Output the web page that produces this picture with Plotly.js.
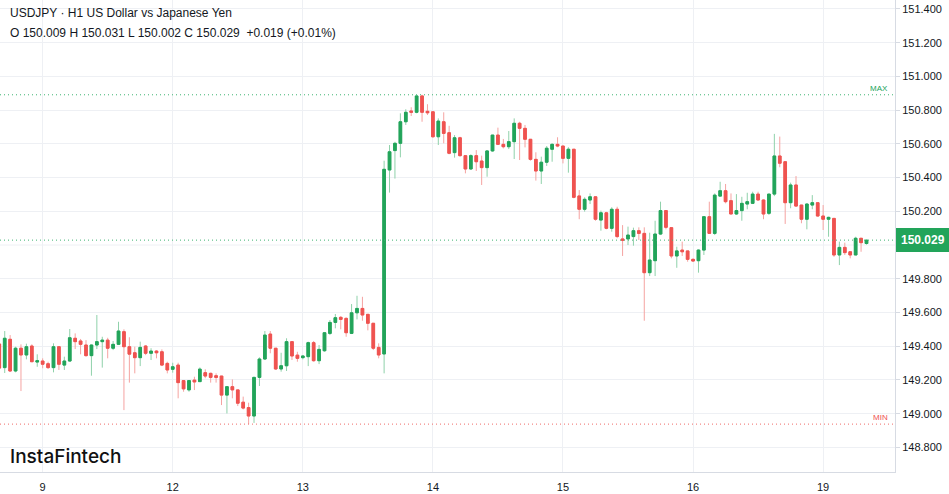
<!DOCTYPE html>
<html>
<head>
<meta charset="utf-8">
<script src="https://cdn.plot.ly/plotly-3.0.1.min.js"></script>
<style>
  html, body { margin: 0; padding: 0; background: #ffffff; }
  #chart { width: 949px; height: 494px; }
</style>
</head>
<body>
<div id="chart"></div>
<script>
// ---- Data (USDJPY, H1 candles) ----
const dayLabels = ['9', '12', '13', '14', '15', '16', '19'];
const barsBeforeFirstDay = 8;
const barsPerDay = 24;
const priceTicks = [148.8, 149.0, 149.2, 149.4, 149.6, 149.8, 150.0, 150.2, 150.4, 150.6, 150.8, 151.0, 151.2, 151.4];

const open = [
149.413,149.273,149.441,149.253,149.388,149.348,149.401,149.306,149.312,149.296,
149.273,149.397,149.288,149.312,149.447,149.431,149.407,149.344,149.407,149.427,
149.436,149.388,149.411,149.486,149.397,149.361,149.332,149.401,149.358,149.371,
149.367,149.298,149.263,149.288,149.196,149.141,149.199,149.190,149.243,149.239,
149.225,149.223,149.110,149.160,149.141,149.068,149.036,148.986,149.215,149.324,
149.472,149.388,149.265,149.284,149.427,149.347,149.332,149.338,149.421,149.314,
149.373,149.476,149.541,149.571,149.565,149.476,149.598,149.624,149.589,149.536,
149.393,149.354,150.445,150.560,150.603,150.731,150.795,150.787,150.884,150.793,
150.790,150.642,150.731,150.666,150.548,150.636,150.530,150.451,150.530,150.498,
150.459,150.558,150.652,150.597,150.583,150.613,150.722,150.692,150.627,150.508,
150.439,150.491,150.568,150.597,150.587,150.514,150.568,150.291,150.212,150.267,
150.286,150.148,150.191,150.099,150.212,150.036,150.036,150.050,150.085,150.069,
149.836,149.907,150.065,150.204,150.103,149.935,149.970,149.965,149.915,149.907,
149.970,150.168,150.069,150.290,150.322,150.263,150.184,150.204,150.243,150.247,
150.302,150.267,150.188,150.302,150.528,150.494,150.251,150.356,150.237,150.153,
150.237,150.251,150.172,150.153,150.158,149.941,149.986,149.960,149.941,150.040,
150.009];
const high = [
149.425,149.490,149.466,149.397,149.411,149.415,149.411,149.352,149.328,149.308,
149.417,149.401,149.338,149.502,149.476,149.443,149.436,149.409,149.585,149.456,
149.450,149.431,149.545,149.500,149.453,149.397,149.427,149.407,149.388,149.377,
149.381,149.308,149.302,149.302,149.199,149.199,149.219,149.274,149.263,149.243,
149.239,149.223,149.160,149.203,149.141,149.101,149.065,149.219,149.334,149.490,
149.490,149.388,149.361,149.447,149.427,149.367,149.347,149.427,149.431,149.407,
149.480,149.555,149.591,149.579,149.571,149.650,149.699,149.693,149.589,149.536,
149.417,150.500,150.593,150.612,150.781,150.805,150.817,150.889,150.891,150.835,
150.793,150.751,150.787,150.707,150.652,150.642,150.534,150.538,150.563,150.530,
150.563,150.652,150.696,150.629,150.676,150.751,150.731,150.712,150.627,150.550,
150.524,150.587,150.603,150.639,150.587,150.580,150.568,150.326,150.283,150.306,
150.286,150.204,150.197,150.224,150.227,150.118,150.109,150.103,150.105,150.105,
150.073,150.144,150.257,150.207,150.103,149.990,150.020,149.965,149.921,149.974,
150.168,150.257,150.306,150.375,150.362,150.306,150.302,150.286,150.310,150.316,
150.316,150.271,150.302,150.659,150.643,150.494,150.370,150.409,150.237,150.247,
150.296,150.251,150.237,150.168,150.158,150.020,150.014,149.960,150.049,150.040,
150.031];
const low = [
149.262,149.241,149.247,149.245,149.134,149.322,149.306,149.278,149.269,149.265,
149.245,149.259,149.259,149.308,149.383,149.352,149.338,149.225,149.383,149.273,
149.328,149.377,149.407,149.021,149.184,149.239,149.282,149.347,149.318,149.328,
149.282,149.239,149.243,149.091,149.130,149.130,149.140,149.190,149.210,149.184,
149.184,149.051,149.001,149.091,149.045,149.025,148.938,148.945,149.164,149.318,
149.358,149.259,149.249,149.253,149.318,149.308,149.322,149.282,149.308,149.294,
149.367,149.466,149.506,149.500,149.456,149.472,149.559,149.551,149.494,149.377,
149.328,149.239,150.311,150.394,150.520,150.712,150.765,150.781,150.731,150.771,
150.636,150.593,150.603,150.538,150.518,150.524,150.425,150.445,150.439,150.356,
150.405,150.553,150.593,150.573,150.569,150.510,150.504,150.579,150.500,150.382,
150.362,150.469,150.494,150.580,150.484,150.429,150.277,150.153,150.198,150.243,
150.144,150.085,150.093,150.079,150.040,149.935,150.000,149.996,150.030,149.551,
149.816,149.816,150.059,150.093,149.921,149.865,149.935,149.901,149.901,149.836,
149.941,150.069,150.059,150.286,150.247,150.184,150.178,150.144,150.212,150.243,
150.263,150.153,150.178,150.290,150.461,150.125,150.218,150.227,150.129,150.093,
150.212,150.168,150.089,150.049,149.930,149.881,149.941,149.921,149.941,149.960,
150.002];
const close = [
149.270,149.447,149.253,149.388,149.348,149.397,149.308,149.314,149.293,149.273,
149.397,149.293,149.312,149.450,149.427,149.411,149.344,149.407,149.427,149.436,
149.388,149.411,149.490,149.397,149.353,149.332,149.393,149.358,149.371,149.361,
149.288,149.259,149.278,149.184,149.147,149.196,149.188,149.264,149.223,149.215,
149.215,149.110,149.160,149.141,149.062,149.033,148.986,149.215,149.324,149.466,
149.388,149.265,149.284,149.427,149.342,149.328,149.342,149.421,149.314,149.381,
149.480,149.541,149.569,149.559,149.480,149.598,149.624,149.585,149.536,149.388,
149.348,150.449,150.553,150.603,150.731,150.787,150.787,150.884,150.787,150.784,
150.642,150.735,150.662,150.544,150.636,150.530,150.451,150.530,150.494,150.459,
150.558,150.652,150.597,150.583,150.613,150.722,150.692,150.627,150.508,150.439,
150.491,150.574,150.597,150.587,150.514,150.568,150.283,150.212,150.271,150.286,
150.153,150.191,150.099,150.212,150.050,150.028,150.059,150.085,150.069,149.836,
149.911,150.065,150.204,150.105,149.935,149.965,149.960,149.915,149.905,149.970,
150.168,150.069,150.296,150.322,150.257,150.184,150.204,150.247,150.257,150.302,
150.267,150.184,150.302,150.528,150.485,150.251,150.356,150.231,150.153,150.243,
150.251,150.172,150.153,150.164,149.941,149.986,149.955,149.941,150.040,150.014,
150.029];

const titleLine1 = 'USDJPY \u00B7 H1 US Dollar vs Japanese Yen';
const titleLine2 = 'O 150.009 H 150.031 L 150.002 C 150.029 \u00A0+0.019 (+0.01%)';
const logoText = 'InstaFintech';

// ---- Styling ----
const UP = '#22a45a', DOWN = '#ef5350';
const UP_WICK = '#8fd1aa', DOWN_WICK = '#f5a3a1';
const UP_DOT = '#3fb573', DOWN_DOT = '#f06a67';
const GRID = '#eef0f4', AXIS = '#d7dbe3', TXT = '#131722';

const n = close.length;
const idx = Array.from({length: n}, (_, i) => i);
const bodyHi = idx.map(i => Math.max(open[i], close[i]));
const bodyLo = idx.map(i => Math.min(open[i], close[i]));
const tickVals = dayLabels.map((_, d) => barsBeforeFirstDay + d * barsPerDay);

const maxHigh = Math.max(...high);
const minLow = Math.min(...low);
const last = close[n - 1];
// price labels hidden behind the last-price marker
const shownTicks = priceTicks.filter(v => Math.abs(v - last) > 0.06);

const wicks = {
  type: 'candlestick', x: idx, open: open, high: high, low: low, close: close,
  increasing: {line: {color: UP_WICK, width: 1}, fillcolor: UP},
  decreasing: {line: {color: DOWN_WICK, width: 1}, fillcolor: DOWN},
  hoverinfo: 'skip', showlegend: false
};
const bodies = {
  type: 'candlestick', x: idx, open: open, high: bodyHi, low: bodyLo, close: close,
  increasing: {line: {color: UP, width: 1}, fillcolor: UP},
  decreasing: {line: {color: DOWN, width: 1}, fillcolor: DOWN},
  hoverinfo: 'skip', showlegend: false
};

const hidden = priceTicks.filter(v => shownTicks.indexOf(v) < 0);
const gridShapes = hidden.map(v => ({type: 'line', xref: 'paper', x0: 0, x1: 1, yref: 'y',
  y0: v, y1: v, layer: 'below', line: {color: GRID, width: 1}}));

const layout = {
  width: 949, height: 494,
  margin: {l: 0, r: 54, t: 0, b: 22},
  paper_bgcolor: '#ffffff', plot_bgcolor: '#ffffff',
  showlegend: false,
  font: {family: 'Liberation Sans, Arial, sans-serif', color: TXT, size: 11},
  xaxis: {
    range: [0.13, 165.26], rangeslider: {visible: false},
    tickvals: tickVals, ticktext: dayLabels,
    showgrid: true, gridcolor: GRID, gridwidth: 1,
    showline: true, linecolor: AXIS, linewidth: 1,
    ticks: 'outside', ticklen: 5, tickcolor: 'rgba(0,0,0,0)',
    tickfont: {size: 11, color: TXT}, zeroline: false, fixedrange: true
  },
  yaxis: {
    side: 'right', range: [148.654, 151.453],
    tickvals: shownTicks, tickformat: '.3f',
    showgrid: true, gridcolor: GRID, gridwidth: 1,
    showline: true, linecolor: AXIS, linewidth: 1,
    ticks: 'outside', ticklen: 4, tickcolor: AXIS,
    tickfont: {size: 11, color: TXT}, zeroline: false, fixedrange: true
  },
  shapes: gridShapes.concat([
    {type: 'line', xref: 'paper', x0: 0, x1: 1, yref: 'y', y0: maxHigh, y1: maxHigh,
     line: {color: UP_DOT, width: 1, dash: '1px,3px'}},
    {type: 'line', xref: 'paper', x0: 0, x1: 1, yref: 'y', y0: minLow, y1: minLow,
     line: {color: DOWN_DOT, width: 1, dash: '1px,3px'}},
    {type: 'line', xref: 'paper', x0: 0, x1: 1, yref: 'y', y0: last, y1: last,
     line: {color: UP_DOT, width: 1, dash: '1px,3px'}}
  ]),
  annotations: [
    {xref: 'paper', yref: 'paper', x: 0, y: 1, xanchor: 'left', yanchor: 'top',
     xshift: 8, yshift: -4, showarrow: false, align: 'left',
     text: titleLine1, font: {size: 12, color: TXT}},
    {xref: 'paper', yref: 'paper', x: 0, y: 1, xanchor: 'left', yanchor: 'top',
     xshift: 8, yshift: -24, showarrow: false, align: 'left',
     text: titleLine2, font: {size: 12, color: TXT}},
    {xref: 'paper', yref: 'y', x: 0.994, y: maxHigh, xanchor: 'right', yanchor: 'bottom',
     showarrow: false, text: 'MAX', font: {size: 8, color: UP}},
    {xref: 'paper', yref: 'y', x: 0.994, y: minLow, xanchor: 'right', yanchor: 'bottom',
     showarrow: false, text: 'MIN', font: {size: 8, color: DOWN}},
    {xref: 'paper', yref: 'y', x: 1, y: last, xanchor: 'left', yanchor: 'middle',
     xshift: 1, showarrow: false, text: last.toFixed(3),
     bgcolor: UP, bordercolor: UP, borderpad: 4,
     font: {size: 12, color: '#ffffff', weight: 600}},
    {xref: 'paper', yref: 'paper', x: 0, y: 0, xanchor: 'left', yanchor: 'bottom',
     xshift: 8, yshift: 2, showarrow: false, text: logoText,
     font: {family: 'Inter, Lato, sans-serif', size: 19, color: '#111111', weight: 500}}
  ]
};

Plotly.newPlot('chart', [wicks, bodies], layout, {displayModeBar: false, staticPlot: true});
</script>
</body>
</html>
